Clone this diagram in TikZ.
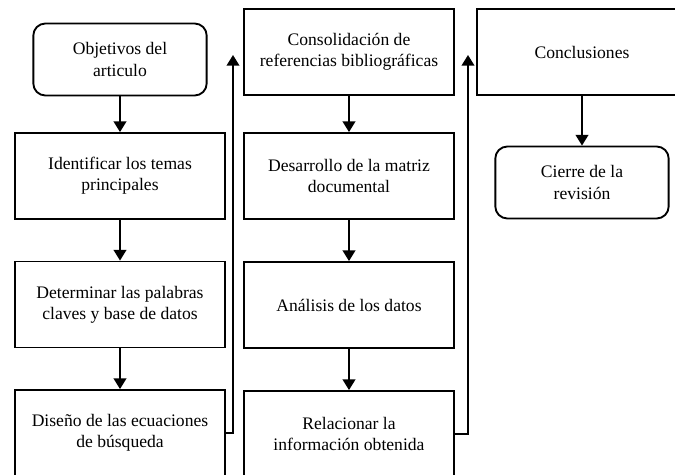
\documentclass[tikz,border=0pt]{standalone}
\usepackage{fontspec}
\setmainfont{Liberation Serif}
\usepackage{xcolor}
\definecolor{ink}{HTML}{000000}
\usepackage{tikz}
\usetikzlibrary{arrows.meta,positioning}

\begin{document}
\begin{tikzpicture}[x=0.75pt, y=-0.75pt,
  box/.style={draw=ink, line width=1.4pt, minimum width=157.5pt, minimum height=64.5pt, inner sep=2pt, font=\fontsize{13.2}{15.8}\selectfont, align=center},
  roundbox/.style={box, rounded corners=9pt, minimum width=130pt, minimum height=54pt},
  arr/.style={-{Triangle[width=9.5pt,length=8pt]}, line width=1.3pt, ink}
]
  \useasboundingbox (0,0) rectangle (675,475);
  \clip (0,0) rectangle (675,475);

  \node[roundbox] (obj) at (120,59.5) {Objetivos del\\articulo};
  \node[box] (temas) at (120,176) {Identificar los temas\\principales};
  \node[box] (claves) at (120,304.5) {Determinar las palabras\\claves y base de datos};
  \node[box] (ecuac) at (120,433) {Diseño de las ecuaciones\\de búsqueda};

  \node[box] (consol) at (349,52) {Consolidación de\\referencias bibliográficas};
  \node[box] (matriz) at (349,176) {Desarrollo de la matriz\\documental};
  \node[box] (datos) at (349,305) {Análisis de los datos};
  \node[box] (relac) at (349,434) {Relacionar la\\información obtenida};

  \node[box] (concl) at (582,52) {Conclusiones};
  \node[roundbox] (cierre) at (582,182.5) {Cierre de la\\revisión};

  \coordinate (up1) at (233,55);
  \coordinate (up2) at (468,55);

  \draw[arr] (obj) -- (temas);
  \draw[arr] (temas) -- (claves);
  \draw[arr] (claves) -- (ecuac);
  \draw[arr] (ecuac.east) -| (up1);
  \draw[arr] (consol) -- (matriz);
  \draw[arr] (matriz) -- (datos);
  \draw[arr] (datos) -- (relac);
  \draw[arr] (relac.east) -| (up2);
  \draw[arr] (concl) -- (cierre);
\end{tikzpicture}
\end{document}
